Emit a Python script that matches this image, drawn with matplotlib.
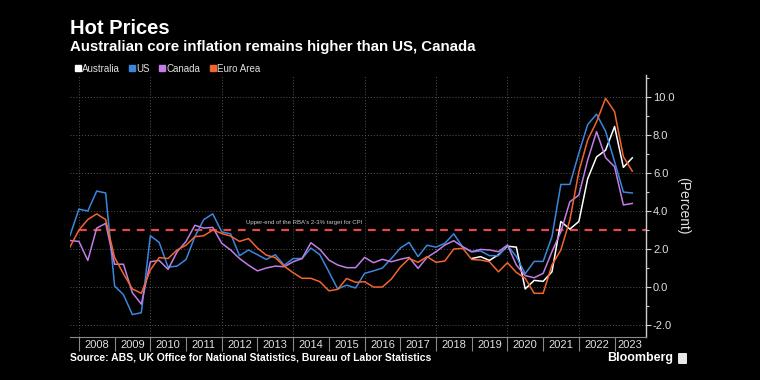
import numpy as np
import pandas as pd
from matplotlib import pyplot as plt
from matplotlib.lines import Line2D
from matplotlib.patches import FancyBboxPatch
from matplotlib.ticker import FixedLocator, FormatStrFormatter, MultipleLocator

plt.rcParams['font.family'] = ['Liberation Sans', 'DejaVu Sans']

# -------------------------- data --------------------------
# quarterly, plotted at quarter end
quarters = pd.period_range('2007Q3', '2023Q2', freq='Q')
au_quarters = pd.period_range('2018Q4', '2023Q2', freq='Q')

us = [2.7,
      4.1, 4.0, 5.05, 4.95,
      0.05, -0.4, -1.45, -1.35,
      2.7, 2.35, 1.05, 1.1,
      1.45, 2.65, 3.55, 3.85,
      2.9, 2.8, 1.65, 1.95,
      1.7, 1.45, 1.7, 1.15,
      1.5, 1.5, 2.05, 1.7,
      0.8, -0.1, 0.1, -0.05,
      0.72, 0.85, 1.0, 1.5,
      2.05, 2.35, 1.6, 2.2,
      2.1, 2.3, 2.8, 2.1,
      1.85, 1.9, 1.65, 1.65,
      2.2, 1.6, 0.7, 1.35,
      1.35, 2.65, 5.4, 5.4,
      7.05, 8.55, 9.1, 8.2,
      6.6, 5.0, 4.95]

canada = [2.45,
          2.4, 1.4, 3.1, 3.35,
          1.2, 1.2, -0.3, -0.9,
          1.33, 1.4, 0.93, 1.85,
          2.4, 3.25, 3.1, 3.14,
          2.3, 1.95, 1.5, 1.15,
          0.85, 1.0, 1.1, 1.07,
          1.33, 1.5, 2.33, 1.98,
          1.42, 1.16, 1.02, 1.02,
          1.56, 1.28, 1.46, 1.33,
          1.46, 1.56, 0.98, 1.56,
          1.86, 2.21, 2.44, 2.12,
          1.86, 1.98, 1.95, 1.86,
          2.21, 1.16, 0.6, 0.49,
          0.72, 1.86, 2.91, 4.49,
          4.84, 6.68, 8.18, 6.81,
          6.33, 4.32, 4.4]

euro = [2.1,
        3.0, 3.55, 3.85, 3.55,
        1.55, 0.7, -0.1, -0.33,
        0.9, 1.55, 1.5, 1.95,
        2.2, 2.65, 2.7, 3.0,
        2.82, 2.68, 2.4, 2.55,
        2.05, 1.68, 1.55, 1.1,
        0.75, 0.46, 0.46, 0.28,
        -0.2, -0.12, 0.45, 0.25,
        0.28, 0.0, 0.0, 0.42,
        1.05, 1.5, 1.3, 1.6,
        1.3, 1.37, 2.0, 2.04,
        1.45, 1.42, 1.33, 0.8,
        1.28, 0.77, 0.46, -0.33,
        -0.33, 1.16, 1.95, 3.53,
        6.07, 7.74, 8.7, 9.93,
        9.23, 6.86, 6.1]

australia = [1.5, 1.6, 1.4, 1.7,
             2.15, 2.1, -0.1, 0.35,
             0.3, 0.8, 3.45, 3.05,
             3.45, 5.7, 6.85, 7.2,
             8.45, 6.3, 6.8]

series_names = ['Australia', 'US', 'Canada', 'Euro Area']
series_colors = ['#ffffff', '#3a87dc', '#c27ee6', '#f2652b']

rba_target = 3.0
years = list(range(2008, 2024))


def to_year(periods):
    ends = periods.end_time
    return np.asarray(ends.year + ends.dayofyear / np.where(ends.is_leap_year, 366, 365))


x_all = to_year(quarters)
x_au = to_year(au_quarters)

# -------------------------- plot --------------------------
W, H = 760, 380
fig = plt.figure(figsize=(W / 100, H / 100), dpi=100, facecolor='black')
ax = fig.add_axes([70 / W, 43 / H, 576 / W, 262 / H], facecolor='black')

xmin, xmax = 2007.75, 2023.88
ax.set_xlim(xmin, xmax)
ax.set_ylim(-2.63, 11.16)

# grid
for y in range(-2, 11, 2):
    ax.axhline(y, color='#555555', lw=0.7, ls=(0, (1, 2)), zorder=0)
for yr in years[::2]:
    ax.axvline(yr, color='#555555', lw=0.7, ls=(0, (1, 2)), zorder=0)

# RBA target line
ax.hlines(rba_target, 2008, xmax, colors='#e5484d', lw=1.6, ls=(0, (3.5, 3)), zorder=1)
ax.text(2014.32, rba_target + 0.42, "Upper-end of the RBA's 2-3% target for CPI",
        fontsize=4.3, color='#c8c8c8', ha='center', va='center')

ax.plot(x_au, australia, color=series_colors[0], lw=1.1, zorder=3)
ax.plot(x_all, us, color=series_colors[1], lw=1.1, zorder=3)
ax.plot(x_all, canada, color=series_colors[2], lw=1.1, zorder=3)
ax.plot(x_all, euro, color=series_colors[3], lw=1.1, zorder=3)

# spines
for side in ['left', 'top']:
    ax.spines[side].set_visible(False)
ax.spines['right'].set_color('#cfcfcf')
ax.spines['right'].set_linewidth(1.0)
ax.spines['bottom'].set_color('#8a8a8a')
ax.spines['bottom'].set_linewidth(0.8)

# y axis on right
ax.yaxis.tick_right()
ax.yaxis.set_label_position('right')
ax.yaxis.set_major_locator(MultipleLocator(2))
ax.yaxis.set_minor_locator(MultipleLocator(1))
ax.yaxis.set_major_formatter(FormatStrFormatter('%.1f'))
ax.tick_params(axis='y', which='major', length=3.5, width=0.8, color='#cfcfcf',
               labelcolor='#e0e0e0', labelsize=8, pad=1.5)
ax.tick_params(axis='y', which='minor', length=2, width=0.8, color='#cfcfcf')
ax.set_ylabel('(Percent)', rotation=270, color='#e0e0e0', fontsize=10, labelpad=11)

# x axis: year labels between separators
label_pos = [(yr + min(yr + 1, xmax)) / 2 for yr in years]
ax.xaxis.set_major_locator(FixedLocator(label_pos))
ax.xaxis.set_major_formatter(plt.FixedFormatter([str(yr) for yr in years]))
ax.xaxis.set_minor_locator(FixedLocator(years))
ax.tick_params(axis='x', which='major', length=0, labelcolor='#e0e0e0', labelsize=8, pad=2.5)
ax.tick_params(axis='x', which='minor', length=10, width=0.8, color='#8a8a8a')

# titles
fig.text(70 / W, 1 - 28 / H, 'Hot Prices', fontsize=14.5, fontweight='bold', color='white',
         ha='left', va='center')
fig.text(70 / W, 1 - 47 / H, 'Australian core inflation remains higher than US, Canada',
         fontsize=10.8, fontweight='bold', color='white', ha='left', va='center')

# legend
handles = [Line2D([], [], marker='s', ls='', color=c, markersize=4.3) for c in series_colors]
fig.legend(handles, series_names, loc='center left', bbox_to_anchor=(75 / W, 1 - 68.5 / H),
           ncol=4, frameon=False, fontsize=7, labelcolor='#e0e0e0', handlelength=0.6,
           handletextpad=0.15, columnspacing=0.95, borderpad=0, borderaxespad=0)

# footer
fig.text(70 / W, 1 - 358 / H,
         'Source: ABS, UK Office for National Statistics, Bureau of Labor Statistics',
         fontsize=7.5, fontweight='bold', color='white', ha='left', va='center')
fig.text(673 / W, 1 - 358 / H, 'Bloomberg', fontsize=9, fontweight='bold', color='white',
         ha='right', va='center')
fig.patches.append(FancyBboxPatch((678 / W, 1 - 364 / H), 9 / W, 11 / H,
                                  boxstyle='round,pad=0,rounding_size=0.002',
                                  transform=fig.transFigure, facecolor='#e8e8e8',
                                  edgecolor='none'))

fig.savefig('out.png', dpi=100, facecolor='black')
